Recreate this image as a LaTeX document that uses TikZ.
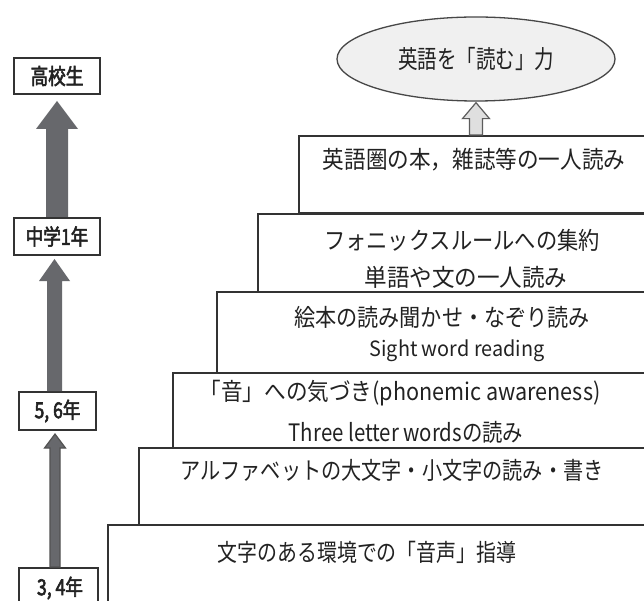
\documentclass[tikz,border=0pt]{standalone}
\usepackage{fontspec}
\setmainfont{Noto Sans CJK JP}
\newfontfamily\jfont{Noto Sans CJK JP}
\newfontfamily\labfont[FakeStretch=0.8,FakeBold=2.5]{Noto Sans CJK JP}
\usetikzlibrary{shapes.geometric,calc}
\definecolor{ink}{HTML}{222222}
\definecolor{edge}{HTML}{333333}
\definecolor{arrgray}{HTML}{67686C}
\newcommand\sx[2]{\scalebox{#1}[1]{#2}}
\tikzset{
  stepbox/.style={draw=edge, line width=1.6pt, anchor=north west, inner sep=0pt},
  steptext/.style={text=ink, inner sep=0pt, font=\jfont\fontsize{24}{28}\selectfont},
  smalltext/.style={text=ink, inner sep=0pt, font=\jfont\fontsize{21}{24}\selectfont},
  labbox/.style={draw=edge, line width=2pt, text=ink, inner sep=0pt, font=\labfont\fontsize{22}{24}\selectfont},
  goalnode/.style={ellipse, draw=edge!90, line width=1.3pt, fill=gray!12, minimum width=278pt, minimum height=84pt, text=ink, font=\jfont\fontsize{25}{28}\selectfont},
  bigarrow/.style={fill=arrgray},
  edgearrow/.style={fill=arrgray, draw=edge!85, line width=1.2pt},
  hollowarrow/.style={fill=gray!25, draw=edge!80, line width=1.2pt}
}
\begin{document}
\begin{tikzpicture}[x=1pt,y=-1pt]
\clip (0,0) rectangle (644,601);
\fill[white] (0,0) rectangle (644,601);
% steps
\node[stepbox, minimum width=600pt, minimum height=100pt] (s6) at (107,524) {};
\node[stepbox, minimum width=600pt, minimum height=77pt] (s5) at (138,447) {};
\node[stepbox, minimum width=600pt, minimum height=75pt] (s4) at (172,372) {};
\node[stepbox, minimum width=600pt, minimum height=81pt] (s3) at (216,291) {};
\node[stepbox, minimum width=600pt, minimum height=78pt] (s2) at (257,213) {};
\node[stepbox, minimum width=600pt, minimum height=77pt] (s1) at (298,135) {};
% step texts
\node[steptext] (t1) at (474,160) {\sx{0.90}{英語圏の本，雑誌等の一人読み}};
\node[steptext] (t2a) at (462,240) {\sx{0.885}{フォニックスルールへの集約}};
\node[steptext] (t2b) at (466,277) {\sx{0.94}{単語や文の一人読み}};
\node[steptext] (t3a) at (442,317) {\sx{0.88}{絵本の読み聞かせ・なぞり読み}};
\node[smalltext] (t3b) at (457,351) {\sx{0.945}{Sight word reading}};
\node[steptext] (t4a) at (400,393) {\sx{0.90}{「音」への気づき(phonemic awareness)}};
\node[steptext] (t4b) at (406,432) {\sx{0.85}{Three letter wordsの読み}};
\node[steptext] (t5) at (392,470) {\sx{0.84}{アルファベットの大文字・小文字の読み・書き}};
\node[steptext] (t6) at (367,552) {\sx{0.83}{文字のある環境での「音声」指導}};
% goal
\node[goalnode] (goal) at (476,59) {\sx{0.78}{英語を「読む」力}};
\draw[hollowarrow] let \p1=(s1.north), \p2=(goal.south) in
  (\x2-6.5pt,\y1) -- (\x2-6.5pt,\y2-17pt) -- (\x2-13.5pt,\y2-17pt) -- (\x2,\y2-1pt)
  -- (\x2+13.5pt,\y2-17pt) -- (\x2+6.5pt,\y2-17pt) -- (\x2+6.5pt,\y1) -- cycle;
% left labels
\node[labbox, minimum width=86pt, minimum height=36pt] (hs) at (57,76) {高校生};
\node[labbox, minimum width=86pt, minimum height=37pt] (jh) at (57,236.5) {中学1年};
\node[labbox, minimum width=77pt, minimum height=38pt] (g56) at (57.5,411) {5, 6年};
\node[labbox, minimum width=79pt, minimum height=60pt, anchor=north] (g34) at (58.5,567) {};
\node[text=ink, inner sep=0pt, font=\labfont\fontsize{22}{24}\selectfont] (g34t) at (60,588) {3, 4年};
% left arrows
\fill[bigarrow] let \p1=(jh.north), \p2=(hs.south) in
  (\x2-11pt,\y1) -- (\x2-11pt,\y2-34pt) -- (\x2-21pt,\y2-34pt) -- (\x2,\y2-6pt)
  -- (\x2+21pt,\y2-34pt) -- (\x2+11pt,\y2-34pt) -- (\x2+11pt,\y1) -- cycle;
\fill[bigarrow] let \p1=(g56.north), \p2=(jh.south) in
  (\x2-10pt,\y1) -- (\x2-10pt,\y2-25pt) -- (\x2-18pt,\y2-25pt) -- (\x2-2.5pt,\y2-3pt)
  -- (\x2+13pt,\y2-25pt) -- (\x2+5pt,\y2-25pt) -- (\x2+5pt,\y1) -- cycle;
\draw[edgearrow] let \p1=(g34.north), \p2=(g56.south) in
  (\x2-7.5pt,\y1) -- (\x2-7.5pt,\y2-17pt) -- (\x2-13pt,\y2-17pt) -- (\x2-2.5pt,\y2-3pt)
  -- (\x2+8pt,\y2-17pt) -- (\x2+2.5pt,\y2-17pt) -- (\x2+2.5pt,\y1) -- cycle;
\end{tikzpicture}
\end{document}
